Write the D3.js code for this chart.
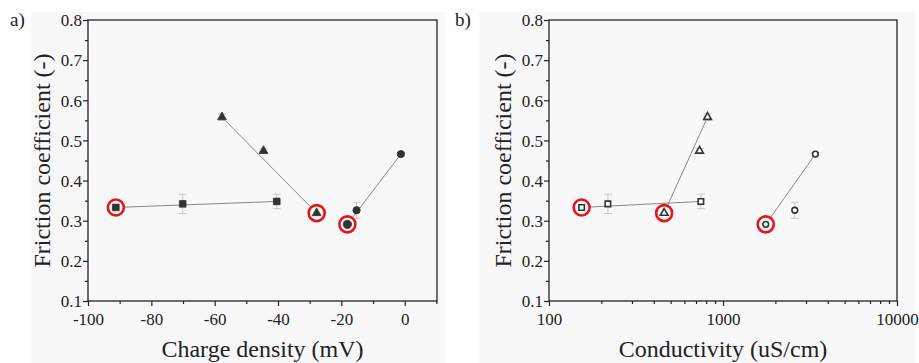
<!DOCTYPE html>
<html><head><meta charset="utf-8">
<script src="https://cdn.jsdelivr.net/npm/d3@7"></script>
<style>body{margin:0;background:#fff}svg{display:block}</style>
</head><body><svg id="c" width="919" height="363"></svg>
<script>
// ---- data ----
const yTicks = [0.1,0.2,0.3,0.4,0.5,0.6,0.7,0.8];
const xTicksA = [-100,-80,-60,-40,-20,0];
const xTicksB = [100,1000,10000];
// panel a: charge density (mV)
const sqChargeX = [-91.2,-70.1,-40.4];
const sqChargeY = [0.333,0.342,0.348];
const triChargeX = [-57.7,-44.6,-27.8];
const triChargeY = [0.558,0.474,0.319];
const cirChargeX = [-18.1,-15.2,-1.2];
const cirChargeY = [0.291,0.326,0.466];
// panel b: conductivity (uS/cm)
const sqCondX = [154,218,746];
const sqCondY = [0.333,0.342,0.348];
const triCondX = [459,733,815];
const triCondY = [0.319,0.474,0.558];
const cirCondX = [1761,2585,3396];
const cirCondY = [0.291,0.326,0.466];
// error bars (half-width), same order as the values
const sqErr = [0.004,0.024,0.018];
const triChargeErr = [0.008,0.006,0.004];
const triCondErr = [0.004,0.006,0.008];
const cirErr = [0.004,0.02,0.004];
// index of highlighted (minimum) point in each series
const hiSq = 0, hiTriA = 2, hiTriB = 0, hiCir = 0;

const FONT = '"Liberation Serif","Times New Roman",Times,serif';
const svg = d3.select("#c").attr("font-family",FONT);
svg.append("rect").attr("x",31).attr("y",12).attr("width",414).attr("height",351).attr("fill","#f8f8f8");
svg.append("rect").attr("x",479).attr("y",12).attr("width",436).attr("height",351).attr("fill","#f8f8f8");

const hyphenFmt = v => String(v);

function panel(opt){
  const g = svg.append("g");
  const x = opt.x, y = d3.scaleLinear().domain([0.1,0.8]).range([301,20]);
  const [x0,x1] = x.range();
  const ya = g.append("g").attr("transform",`translate(${x0},0)`)
    .call(d3.axisLeft(y).tickValues(yTicks).tickSize(5).tickFormat(d3.format(".1f")));
  const ym = g.append("g").attr("transform",`translate(${x0},0)`)
    .call(d3.axisLeft(y).tickValues(d3.range(0.15,0.8,0.1)).tickSize(3).tickFormat(""));
  const xa = g.append("g").attr("transform","translate(0,301)")
    .call(d3.axisBottom(x).tickValues(opt.ticks).tickSize(5).tickFormat(hyphenFmt));
  const xm = g.append("g").attr("transform","translate(0,301)")
    .call(d3.axisBottom(x).tickValues(opt.minor).tickSize(3).tickFormat(""));
  [ya,ym,xa,xm].forEach(a=>{a.attr("font-family",FONT);a.select(".domain").remove();a.selectAll("line").attr("stroke","#222").attr("stroke-width",1.2);});
  ya.selectAll("text").attr("font-family",FONT).attr("fill","#222").attr("font-size",17).attr("x",-6).attr("dy","0.34em");
  xa.selectAll("text").attr("font-family",FONT).attr("fill","#222").attr("font-size",17).attr("y",12).attr("dy","0.72em");
  g.append("rect").attr("x",x0).attr("y",20).attr("width",x1-x0).attr("height",281)
    .attr("fill","none").attr("stroke","#222").attr("stroke-width",1.3);
  g.append("text").attr("x",(x0+x1)/2).attr("y",357).attr("text-anchor","middle").attr("font-size",24).attr("fill","#222").text(opt.xlabel);
  g.append("text").attr("transform",`translate(${x0-38},160.5) rotate(-90)`).attr("text-anchor","middle").attr("font-size",24).attr("fill","#222").text("Friction coefficient (-)");
  g.append("text").attr("x",opt.tag[0]).attr("y",26).attr("font-size",19).attr("fill","#222").text(opt.tag[1]);

  const series = opt.series;
  series.forEach(s=>{
    const h = s.hi;
    let far = 0, best=-1;
    s.xs.forEach((v,i)=>{const d=Math.abs(x(v)-x(s.xs[h])); if(d>best){best=d;far=i;}});
    g.append("path").datum([h,far]).attr("fill","none").attr("stroke","#888").attr("stroke-width",1)
      .attr("d",d3.line().x(i=>x(s.xs[i])).y(i=>y(s.ys[i])));
  });
  series.forEach(s=>{
    s.xs.forEach((v,i)=>{
      const e = s.err[i], cx = x(v);
      const eg = g.append("g").attr("stroke","#c8c8c8").attr("stroke-width",1);
      eg.append("line").attr("x1",cx).attr("x2",cx).attr("y1",y(s.ys[i]-e)).attr("y2",y(s.ys[i]+e));
      [s.ys[i]-e,s.ys[i]+e].forEach(v2=>eg.append("line").attr("x1",cx-4).attr("x2",cx+4).attr("y1",y(v2)).attr("y2",y(v2)));
    });
  });
  series.forEach(s=>{
    g.append("circle").attr("cx",x(s.xs[s.hi])).attr("cy",y(s.ys[s.hi])).attr("r",8)
      .attr("fill","#f8f8f8").attr("stroke","#e8141c").attr("stroke-width",2.6);
  });
  const sym = {sq:d3.symbolSquare, tri:d3.symbolTriangle, cir:d3.symbolCircle};
  series.forEach(s=>{
    s.xs.forEach((v,i)=>{
      const size = opt.filled ? (s.type==="tri"?34:(s.type==="cir"?(i===s.hi?55:42):44)) : (s.type==="tri"?26:(s.type==="cir"?26:30));
      g.append("path").attr("transform",`translate(${x(v)},${y(s.ys[i])})`)
        .attr("d",d3.symbol().type(sym[s.type]).size(size)())
        .attr("fill",opt.filled?"#333":"#fff").attr("stroke","#333").attr("stroke-width",opt.filled?0.8:1.6);
    });
  });
}

panel({
  x: d3.scaleLinear().domain([-100,10.2]).range([88,437]),
  ticks: xTicksA, minor: d3.range(-90,11,20),
  xlabel: "Charge density (mV)", tag:[10,"a)"], filled:true,
  series:[
    {type:"sq", xs:sqChargeX, ys:sqChargeY, err:sqErr, hi:hiSq},
    {type:"tri", xs:triChargeX, ys:triChargeY, err:triChargeErr, hi:hiTriA},
    {type:"cir", xs:cirChargeX, ys:cirChargeY, err:cirErr, hi:hiCir}
  ]
});
const minorLog = [];
[100,1000].forEach(d=>{for(let k=2;k<=9;k++) minorLog.push(d*k);});
panel({
  x: d3.scaleLog().domain([100,10000]).range([549,897]),
  ticks: xTicksB, minor: minorLog,
  xlabel: "Conductivity (uS/cm)", tag:[455,"b)"], filled:false,
  series:[
    {type:"sq", xs:sqCondX, ys:sqCondY, err:sqErr, hi:hiSq},
    {type:"tri", xs:triCondX, ys:triCondY, err:triCondErr, hi:hiTriB},
    {type:"cir", xs:cirCondX, ys:cirCondY, err:cirErr, hi:hiCir}
  ]
});
</script></body></html>
